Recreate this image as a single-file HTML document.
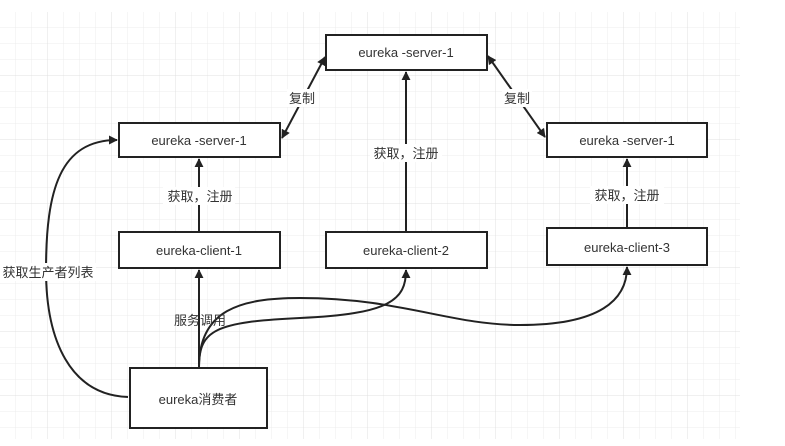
<!DOCTYPE html>
<html><head><meta charset="utf-8"><style>
body{margin:0;background:#fff;}
svg{display:block;}
text{font-family:"Liberation Sans","Noto Sans CJK SC",sans-serif;font-size:13px;fill:#333;}
</style></head><body>
<svg width="785" height="446" viewBox="0 0 785 446">
<defs>
<pattern id="g" width="16" height="16" patternUnits="userSpaceOnUse" x="0" y="12">
<path d="M16 0V16M0 16H16" stroke="#ececec" stroke-width="1" fill="none"/>
</pattern>
<pattern id="G" width="64" height="64" patternUnits="userSpaceOnUse" x="-16" y="12">
<path d="M64 0V64M0 64H64" stroke="#e0e0e0" stroke-width="1" fill="none"/>
</pattern>
<marker id="a" viewBox="0 0 10 10" refX="9" refY="5" markerWidth="9" markerHeight="9" orient="auto-start-reverse" markerUnits="userSpaceOnUse">
<path d="M0 0L10 5L0 10z" fill="#222"/>
</marker>
</defs>
<rect x="0" y="12" width="740" height="427" fill="url(#g)"/>
<rect x="0" y="12" width="740" height="427" fill="url(#G)"/>
<g fill="#fff" stroke="#222" stroke-width="2">
<rect x="326" y="35" width="161" height="35"/>
<rect x="119" y="123" width="161" height="34"/>
<rect x="119" y="232" width="161" height="36"/>
<rect x="326" y="232" width="161" height="36"/>
<rect x="547" y="123" width="160" height="34"/>
<rect x="547" y="228" width="160" height="37"/>
<rect x="130" y="368" width="137" height="60"/>
</g>
<g text-anchor="middle">
<text x="406" y="57">eureka -server-1</text>
<text x="199" y="145">eureka -server-1</text>
<text x="199" y="255">eureka-client-1</text>
<text x="406" y="255">eureka-client-2</text>
<text x="627" y="145">eureka -server-1</text>
<text x="627" y="252">eureka-client-3</text>
<text x="198" y="404">eureka消费者</text>
</g>
<g stroke="#222" stroke-width="2" fill="none">
<path d="M282 138L325 57" marker-start="url(#a)" marker-end="url(#a)"/>
<path d="M488 56L545 137" marker-start="url(#a)" marker-end="url(#a)"/>
<path d="M199 231V159" marker-end="url(#a)"/>
<path d="M406 231V72" marker-end="url(#a)"/>
<path d="M627 227V159" marker-end="url(#a)"/>
<path d="M199 367V270" marker-end="url(#a)"/>
<path d="M128 397C70 395 46 340 46 270C46 190 60 140 117 140" marker-end="url(#a)"/>
<path d="M199 367C199 330 215 322 300 318C390 314 406 300 406 270" marker-end="url(#a)"/>
<path d="M199 367C199 310 240 298 300 298C400 298 450 325 520 325C600 325 627 300 627 267" marker-end="url(#a)"/>
</g>
<g text-anchor="middle">
<rect x="287" y="89" width="30" height="18" fill="#fff"/>
<text x="302" y="103">复制</text>
<rect x="502" y="89" width="30" height="18" fill="#fff"/>
<text x="517" y="103">复制</text>
<rect x="163" y="187" width="72" height="18" fill="#fff"/>
<text x="200" y="201">获取，注册</text>
<rect x="370" y="144" width="72" height="18" fill="#fff"/>
<text x="406" y="158">获取，注册</text>
<rect x="590" y="186" width="74" height="18" fill="#fff"/>
<text x="627" y="200">获取，注册</text>
<text x="200" y="325">服务调用</text>
<rect x="0" y="263" width="96" height="18" fill="#fff"/>
<text x="48" y="277">获取生产者列表</text>
</g>
</svg>
</body></html>
